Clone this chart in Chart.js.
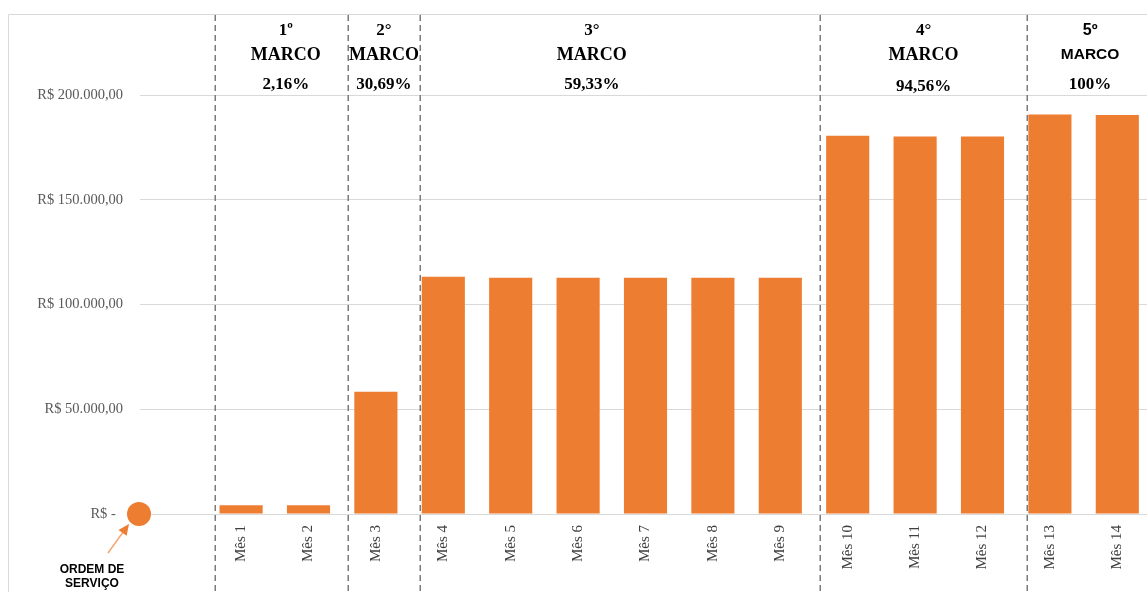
<!DOCTYPE html>
<html><head><meta charset="utf-8">
<script src="https://cdn.jsdelivr.net/npm/chart.js@4"></script>
<style>
html,body{margin:0;padding:0;overflow:hidden;background:#fff;width:1147px;height:592px}
#wrap{position:absolute;left:0;top:0;width:1155px;height:592px}
</style></head><body><div id="wrap"><canvas id="c"></canvas></div>
<script>
const months = ['Mês 1','Mês 2','Mês 3','Mês 4','Mês 5','Mês 6','Mês 7','Mês 8','Mês 9','Mês 10','Mês 11','Mês 12','Mês 13','Mês 14'];
const values = [4150, 4150, 58350, 113200, 112800, 112800, 112800, 112800, 112800, 180500, 180200, 180200, 190700, 190400];
const yTicks = [0, 50000, 100000, 150000, 200000];
const yTickLabels = ['R$ -\u00a0\u00a0', 'R$ 50.000,00', 'R$ 100.000,00', 'R$ 150.000,00', 'R$ 200.000,00'];
const milestoneOrdinals = ['1º', '2°', '3°', '4°', '5º'];
const milestoneWord = ['MARCO', 'MARCO', 'MARCO', 'MARCO', 'MARCO'];
const milestonePercents = ['2,16%', '30,69%', '59,33%', '94,56%', '100%'];
const milestoneStartMonth = [0, 2, 3, 9, 12];
const startLabel = ['ORDEM DE', 'SERVIÇO'];

const categories = [''].concat(months);
const barData = [null].concat(values);

const ORANGE = '#ED7D31';
const SERIF = '"Liberation Serif", "Times New Roman", serif';
const SANS = '"Liberation Sans", Arial, sans-serif';
const lineShift = [8, 6, 10, 6, 11];

function milestoneX(chart, i) {
  return chart.scales.x.getPixelForValue(milestoneStartMonth[i] + 0.5) + lineShift[i];
}

const overlay = {
  id: 'overlay',
  beforeDraw(chart) {
    const ctx = chart.ctx;
    ctx.save();
    ctx.strokeStyle = '#d9d9d9';
    ctx.lineWidth = 1;
    ctx.beginPath();
    ctx.moveTo(8.5, 600);
    ctx.lineTo(8.5, 14.5);
    ctx.lineTo(1200, 14.5);
    ctx.stroke();
    ctx.restore();
  },
  beforeDatasetsDraw(chart) {
    const ctx = chart.ctx;
    ctx.save();
    ctx.strokeStyle = '#7a7a7a';
    ctx.lineWidth = 1.5;
    ctx.setLineDash([6, 4]);
    milestoneStartMonth.forEach((m, i) => {
      const x = Math.round(milestoneX(chart, i)) + 0.25;
      ctx.beginPath();
      ctx.moveTo(x, 15);
      ctx.lineTo(x, 600);
      ctx.stroke();
    });
    ctx.restore();
  },
  afterDraw(chart) {
    const ctx = chart.ctx, ys = chart.scales.y, ca = chart.chartArea;
    const lines = milestoneStartMonth.map((m, i) => milestoneX(chart, i));
    const nudges = [4, 0, -28, 0, 1];
    ctx.save();
    ctx.fillStyle = '#000';
    ctx.textAlign = 'center';
    ctx.textBaseline = 'middle';
    milestoneOrdinals.forEach((o, i) => {
      const right = i < lines.length - 1 ? lines[i + 1] : ca.right;
      const cx = (lines[i] + right) / 2 + nudges[i];
      const last = i === milestoneOrdinals.length - 1;
      ctx.font = 'bold ' + (last ? '16px ' + SANS : '17px ' + SERIF);
      ctx.fillText(o, cx, 31);
      ctx.font = 'bold ' + (last ? '15.5px ' + SANS : '18px ' + SERIF);
      ctx.fillText(milestoneWord[i], cx, 55);
      ctx.font = 'bold 17px ' + SERIF;
      ctx.fillText(milestonePercents[i], cx, i === 3 ? 87 : 85);
    });
    // start circle
    const y0 = ys.getPixelForValue(0);
    const cx0 = ca.left - 1;
    ctx.fillStyle = ORANGE;
    ctx.beginPath();
    ctx.arc(cx0, y0, 12, 0, Math.PI * 2);
    ctx.fill();
    // arrow
    const tx = cx0 - 10, ty = y0 + 10;
    const fx = tx - 21, fy = ty + 29;
    const ang = Math.atan2(ty - fy, tx - fx);
    ctx.strokeStyle = '#F4A46E';
    ctx.fillStyle = ORANGE;
    ctx.lineWidth = 1.5;
    ctx.beginPath();
    ctx.moveTo(fx, fy);
    ctx.lineTo(tx - 7 * Math.cos(ang), ty - 7 * Math.sin(ang));
    ctx.stroke();
    ctx.beginPath();
    ctx.moveTo(tx, ty);
    ctx.lineTo(tx - 11 * Math.cos(ang) + 5 * Math.sin(ang), ty - 11 * Math.sin(ang) - 5 * Math.cos(ang));
    ctx.lineTo(tx - 11 * Math.cos(ang) - 5 * Math.sin(ang), ty - 11 * Math.sin(ang) + 5 * Math.cos(ang));
    ctx.closePath();
    ctx.fill();
    // label
    ctx.fillStyle = '#000';
    ctx.font = 'bold 12px ' + SANS;
    ctx.fillText(startLabel[0], 92, 570);
    ctx.fillText(startLabel[1], 92, 584);
    ctx.restore();
  }
};

new Chart(document.getElementById('c'), {
  type: 'bar',
  data: {
    labels: categories,
    datasets: [{
      data: barData,
      backgroundColor: ORANGE,
      borderWidth: 0,
      categoryPercentage: 1,
      barPercentage: 0.64
    }]
  },
  options: {
    responsive: true,
    maintainAspectRatio: false,
    animation: false,
    layout: { padding: { left: 0, top: 95, right: 4, bottom: 0 } },
    plugins: { legend: { display: false }, tooltip: { enabled: false } },
    scales: {
      x: {
        grid: { display: false, drawTicks: false },
        border: { display: false },
        ticks: {
          maxRotation: 90, minRotation: 90, padding: 11, autoSkip: false,
          color: '#404040', font: { family: SERIF, size: 15 }
        },
        afterFit(s) { s.height = 78; }
      },
      y: {
        min: 0, max: 200000,
        grid: { color: '#d9d9d9', lineWidth: 1, drawTicks: false },
        border: { display: false },
        afterBuildTicks(s) { s.ticks = yTicks.map(v => ({ value: v })); },
        ticks: {
          padding: 17, color: '#595959', font: { family: SERIF, size: 14.5 },
          callback(v) { return yTickLabels[yTicks.indexOf(v)]; }
        },
        afterFit(s) { s.width = 140; }
      }
    }
  },
  plugins: [overlay]
});
</script></body></html>
